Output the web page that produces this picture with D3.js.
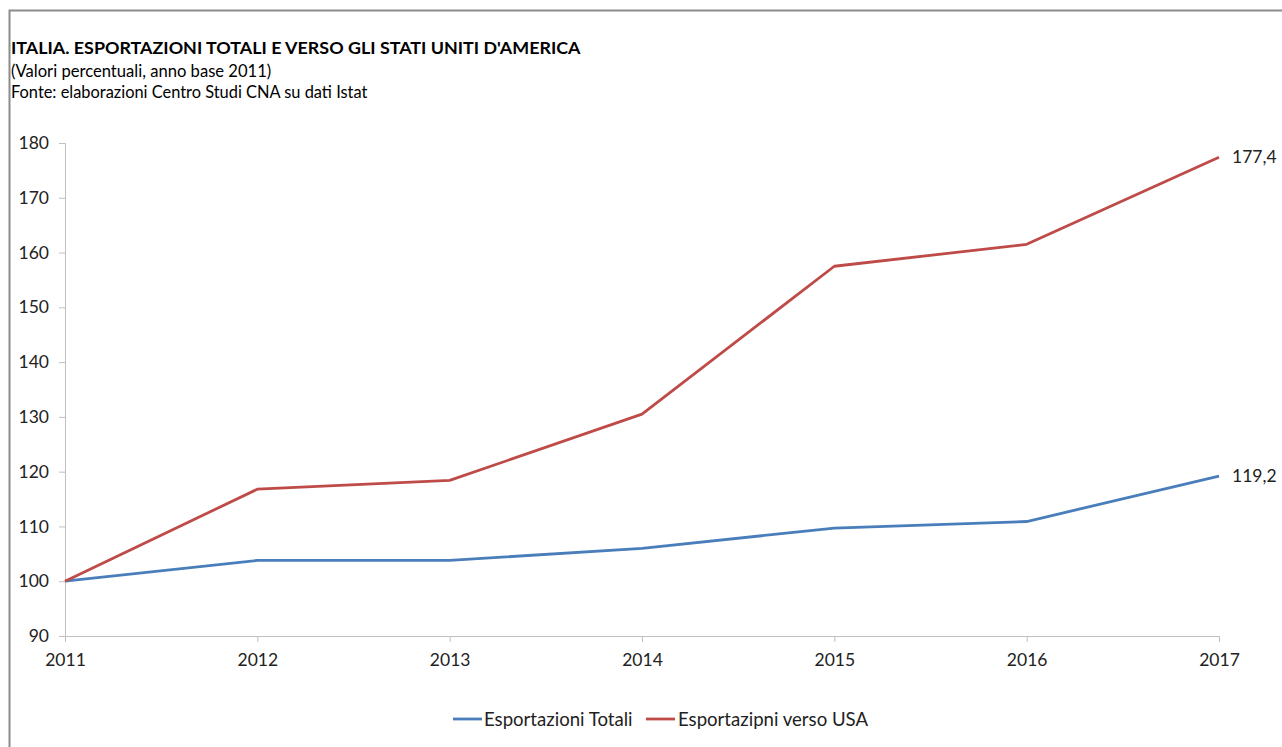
<!DOCTYPE html>
<html><head><meta charset="utf-8">
<script src="https://cdn.jsdelivr.net/npm/d3@7"></script>
<style>
html,body{margin:0;padding:0;background:#fff;}
svg{display:block;font-family:Lato,"Open Sans",sans-serif;}
</style></head><body>
<svg id="c" width="1282" height="747"></svg>
<script>
const years = [2011, 2012, 2013, 2014, 2015, 2016, 2017];
const totali = [100, 103.8, 103.8, 106.0, 109.7, 110.9, 119.2];
const usa = [100, 116.8, 118.4, 130.5, 157.5, 161.5, 177.4];
const yTicks = [90, 100, 110, 120, 130, 140, 150, 160, 170, 180];
const seriesNames = ["Esportazioni Totali", "Esportazipni verso USA"];
const endLabels = ["119,2", "177,4"];

const svg = d3.select("#c");
const colors = ["#4a7ebb", "#be4b48"];

// frame
svg.append("path").attr("d", "M9.5,747 V10.5 H1282").attr("fill", "none").attr("stroke", "#8c8c8c").attr("stroke-width", 2);

// titles
svg.append("text").attr("x", 11).attr("y", 54).attr("font-size", 17.9).attr("font-weight", "bold").attr("fill", "#000")
  .text("ITALIA. ESPORTAZIONI TOTALI E VERSO GLI STATI UNITI D'AMERICA");
svg.append("text").attr("x", 11).attr("y", 77).attr("font-size", 16.6).attr("fill", "#000")
  .text("(Valori percentuali, anno base 2011)");
svg.append("text").attr("x", 11).attr("y", 98).attr("font-size", 16.4).attr("fill", "#000")
  .text("Fonte: elaborazioni Centro Studi CNA su dati Istat");

const x = d3.scaleLinear().domain([2011, 2017]).range([65, 1219]);
const y = d3.scaleLinear().domain([90, 180]).range([636, 143]);

const yAxis = svg.append("g").attr("transform", "translate(65,0)")
  .call(d3.axisLeft(y).tickValues(yTicks).tickSize(6).tickPadding(10).tickFormat(d3.format("d")));
yAxis.select(".domain").attr("stroke", "#bfbfbf").attr("d", "M-6,143.5H0.5V636.5H-6");
yAxis.selectAll(".tick line").attr("stroke", "#bfbfbf");
yAxis.selectAll("text").attr("font-size", 17.5).attr("fill", "#222").attr("font-family", "Lato,'Open Sans',sans-serif");

const xAxis = svg.append("g").attr("transform", "translate(0,636)")
  .call(d3.axisBottom(x).tickValues(years).tickSize(6).tickPadding(12).tickFormat(d3.format("d")));
xAxis.select(".domain").attr("stroke", "#bfbfbf").attr("d", "M65,0.5H1219.5");
xAxis.selectAll(".tick line").attr("stroke", "#bfbfbf");
xAxis.selectAll("text").attr("font-size", 17.5).attr("fill", "#222").attr("font-family", "Lato,'Open Sans',sans-serif");

const line = d3.line().x((d, i) => x(years[i])).y(d => y(d));
[totali, usa].forEach((s, k) => {
  svg.append("path").datum(s).attr("d", line).attr("fill", "none")
    .attr("stroke", colors[k]).attr("stroke-width", 2.8).attr("stroke-linejoin", "round");
  svg.append("text").attr("x", x(years[years.length - 1]) + 13).attr("y", y(s[s.length - 1]))
    .attr("dy", "0.35em").attr("font-size", 17.5).attr("fill", "#222").text(endLabels[k]);
});

// legend
const leg = [{x0: 453, tx: 484}, {x0: 646, tx: 678}];
leg.forEach((l, k) => {
  svg.append("line").attr("x1", l.x0).attr("x2", l.x0 + 29).attr("y1", 719).attr("y2", 719)
    .attr("stroke", colors[k]).attr("stroke-width", 2.8);
  svg.append("text").attr("x", l.tx).attr("y", 719).attr("dy", "0.35em").attr("font-size", 18.6)
    .attr("fill", "#222").text(seriesNames[k]);
});
</script>
</body></html>
